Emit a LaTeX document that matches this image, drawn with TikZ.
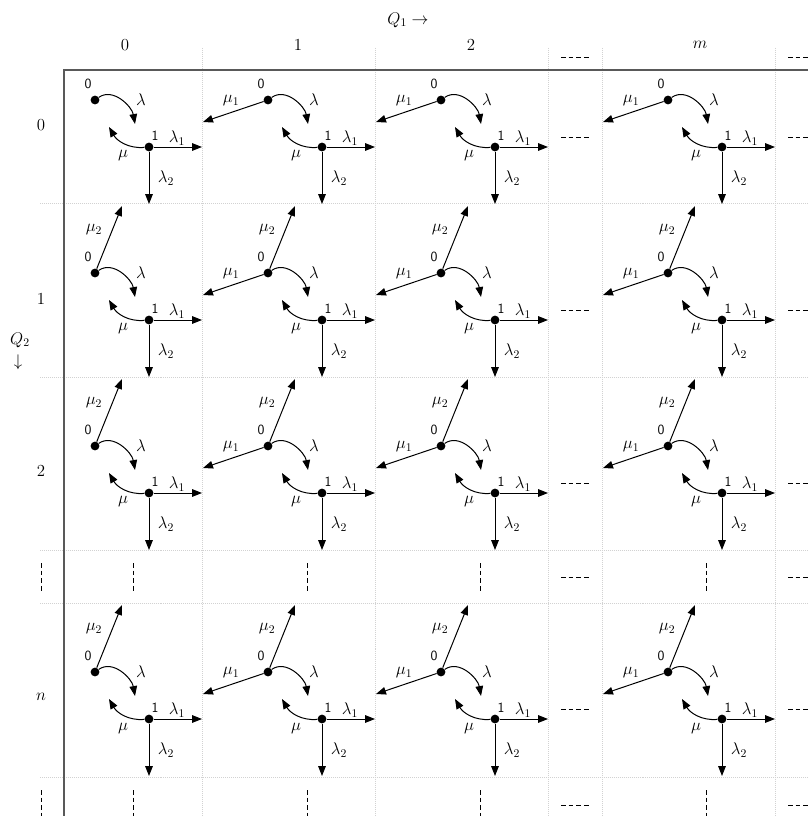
\documentclass[tikz,border=0pt]{standalone}
\usetikzlibrary{arrows.meta}
\begin{document}
\begin{tikzpicture}[x=0.03cm, y=-0.03cm, font=\Large,
  dot/.style={circle, fill, inner sep=0pt, minimum size=7.5pt},
  arr/.style={-{Triangle[length=8.5pt, width=6.5pt]}, line width=0.85pt},
  lbl/.style={inner sep=1pt},
  tag/.style={font=\sffamily\large, inner sep=1pt},
  grid line/.style={gray!35, densely dotted, line width=0.7pt},
  frame/.style={gray!70!black, line width=1.5pt},
  gap/.style={dash pattern=on 4pt off 2.5pt, line width=0.8pt}]
  \clip (0,0) rectangle (808,816);
  \foreach \x in {202,375,548,602,775}
    \draw[grid line] (\x,48) -- (\x,816);
  \foreach \y in {203,377,550,603,777}
    \draw[grid line] (40,\y) -- (808,\y);
  \draw[frame] (64,816) -- (64,70) -- (808,70);
  \node (q1) at (408,20) {$Q_1 \rightarrow$};
  \node (q2) at (20,340) {$Q_2$};
  \node (q2arrow) at (18,362) {$\downarrow$};
  \node (col0) at (125,45) {0};
  \node (col1) at (298,45) {1};
  \node (col2) at (471,45) {2};
  \node (colm) at (700,45) {$m$};
  \node (row0) at (41,125) {0};
  \node (row1) at (41,299) {1};
  \node (row2) at (41,471) {2};
  \node (rown) at (41,697) {$n$};
  \foreach \y in {57,137,310,483,577,709,805} {
    \draw[gap] (561,\y) -- (590,\y);
    \draw[gap] (788,\y) -- (817,\y);
  }
  \foreach \x in {41,133,307,480,706} {
    \draw[gap] (\x,563) -- (\x,592);
    \draw[gap] (\x,790) -- (\x,817);
  }
  \foreach \c/\x/\hasleft in {0/95/0, 1/268/1, 2/441/1, m/668/1}
  \foreach \r/\y/\hastop in {0/100/0, 1/273/1, 2/446/1, n/672/1} {
    \node[dot] (s0-\c-\r) at (\x,\y) {};
    \node[dot] (s1-\c-\r) at (\x+54,\y+47) {};
    \node[tag] (t0-\c-\r) at (\x-7,\y-16) {0};
    \node[tag] (t1-\c-\r) at (\x+60,\y+36) {1};
    \coordinate (lam-\c-\r) at (\x+40,\y+24);
    \coordinate (mu-\c-\r) at (\x+14,\y+27);
    \coordinate (east-\c-\r) at (\x+107,\y+47);
    \coordinate (south-\c-\r) at (\x+54,\y+104);
    \draw[arr] (s0-\c-\r) to[out=35, in=100] (lam-\c-\r);
    \node[lbl] at (\x+46,\y) {$\lambda$};
    \draw[arr] (s1-\c-\r) to[out=185, in=-60] (mu-\c-\r);
    \node[lbl] at (\x+28,\y+56) {$\mu$};
    \draw[arr] (s1-\c-\r) -- (east-\c-\r);
    \node[lbl] at (\x+82,\y+38) {$\lambda_1$};
    \draw[arr] (s1-\c-\r) -- (south-\c-\r);
    \node[lbl] at (\x+71,\y+78) {$\lambda_2$};
    \ifnum\hasleft=1
      \coordinate (west-\c-\r) at (\x-65,\y+22);
      \draw[arr] (s0-\c-\r) -- (west-\c-\r);
      \node[lbl] at (\x-37,\y+1) {$\mu_1$};
    \fi
    \ifnum\hastop=1
      \coordinate (north-\c-\r) at (\x+27,\y-67);
      \draw[arr] (s0-\c-\r) -- (north-\c-\r);
      \node[lbl] at (\x-1,\y-43) {$\mu_2$};
    \fi
  }
\end{tikzpicture}
\end{document}
